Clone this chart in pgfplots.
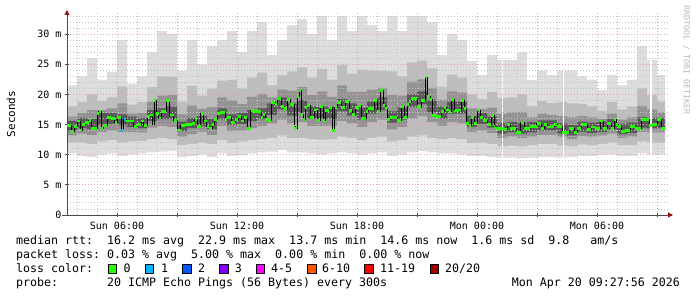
\documentclass[border=0pt]{standalone}
\usepackage{fontspec}
\usepackage{pgfplots}
\pgfplotsset{compat=1.18}
\usepackage{pgfplotstable}
\usepgfplotslibrary{fillbetween}
\usetikzlibrary{arrows.meta}
\newfontfamily\dvm{DejaVu Sans Mono}
\newcommand\legfont{\dvm\fontsize{11.63}{13}\selectfont\frenchspacing}
\newcommand\tickfont{\dvm\fontsize{10}{12}\selectfont\frenchspacing}
\definecolor{smokeA}{HTML}{DDDDDD}
\definecolor{smokeB}{HTML}{BDBDBD}
\definecolor{smokeC}{HTML}{939393}
\definecolor{smokeD}{HTML}{5A5A5A}
\definecolor{lc0}{HTML}{26FF00}
\definecolor{lc1}{HTML}{00B8FF}
\definecolor{lc2}{HTML}{0059FF}
\definecolor{lc3}{HTML}{7E00FF}
\definecolor{lc4}{HTML}{FF00FF}
\definecolor{lc6}{HTML}{FF5500}
\definecolor{lc11}{HTML}{FF0000}
\definecolor{lc20}{HTML}{A10000}
\definecolor{majgrid}{RGB}{235,160,160}
\definecolor{mingrid}{RGB}{195,195,195}
\definecolor{arrowred}{RGB}{150,20,20}
\tikzset{lbox/.style={draw=black, line width=0.8pt, minimum size=8.5pt, inner sep=0pt}}

\pgfplotstableread{
t lo1 lo2 lo3 lo4 hi4 hi3 hi2 hi1
3.5 10.2 12.0 13.2 14.0 15.6 16.3 18.0 21.5
4.0 9.8 12.0 13.5 14.4 16.1 16.9 18.7 23.0
4.5 9.6 11.8 13.3 14.2 15.9 17.4 20.0 26.0
5.0 10.0 12.2 13.8 15.0 16.9 17.4 18.9 22.4
5.5 10.2 12.4 14.0 15.1 16.9 17.7 19.5 23.7
6.0 9.8 12.0 13.8 14.9 16.7 18.5 21.3 29.0
6.5 10.0 12.2 13.8 14.6 16.3 16.8 18.3 21.8
7.0 10.2 12.3 13.7 14.4 16.1 16.9 18.7 23.0
7.5 10.4 12.6 14.5 15.6 17.4 18.8 21.2 27.0
8.0 10.5 12.8 14.8 15.9 17.7 19.8 23.0 30.5
8.5 10.6 12.6 14.6 15.9 18.0 19.9 22.9 30.0
9.0 9.6 11.6 13.0 13.9 15.5 16.7 18.8 24.0
9.5 9.8 11.8 13.4 14.4 16.1 18.2 21.4 29.0
10.0 10.0 12.0 13.8 14.7 16.4 17.6 19.8 25.0
10.5 9.6 11.8 13.3 14.2 15.9 17.9 20.9 28.0
11.0 10.2 12.4 14.8 15.9 17.7 19.5 22.3 29.0
11.5 9.8 12.0 13.9 14.9 16.7 19.0 22.4 30.5
12.0 9.9 12.2 14.0 15.1 16.9 18.4 21.0 27.0
12.5 10.2 12.4 14.4 15.6 17.4 19.6 22.8 30.5
13.0 10.4 12.6 14.8 15.9 17.7 20.1 23.6 32.0
13.5 10.5 12.8 15.2 16.6 18.5 19.5 21.5 26.5
14.0 10.8 13.2 15.8 17.5 19.5 20.8 23.2 29.0
14.5 10.4 12.8 15.2 16.5 18.5 20.6 23.8 31.5
15.0 10.4 12.8 15.4 17.0 19.0 21.2 24.5 32.5
15.5 10.2 12.6 14.8 16.0 18.0 19.9 22.8 30.0
16.0 10.0 12.5 14.8 16.0 18.0 20.5 24.2 33.0
16.5 10.2 12.6 14.8 16.0 18.0 19.6 22.4 29.0
17.0 10.4 13.0 15.6 17.2 19.2 21.5 24.9 33.0
17.5 10.2 12.8 15.2 16.5 18.5 20.4 23.4 30.5
18.0 10.0 12.4 14.6 15.8 17.8 20.4 24.1 33.0
18.5 10.2 12.8 15.4 16.8 18.8 20.8 24.0 31.5
19.0 10.4 13.0 15.8 17.4 19.5 21.1 23.9 30.5
19.5 9.8 12.2 14.2 15.3 17.2 19.9 23.8 33.0
20.0 10.0 12.4 14.6 15.8 17.8 19.8 23.0 30.5
20.5 10.4 13.0 16.0 17.9 20.0 22.1 25.3 33.0
21.0 10.6 13.2 16.4 18.4 20.5 22.5 25.6 33.0
21.5 10.4 12.8 15.4 17.0 19.0 21.1 24.3 32.0
22.0 10.2 12.6 14.8 16.0 18.0 19.1 21.3 26.5
22.5 10.2 12.8 15.4 16.8 18.8 20.5 23.3 30.0
23.0 10.0 12.6 15.2 16.8 18.8 20.3 22.8 29.0
23.5 9.8 11.9 13.8 14.6 16.4 17.7 20.0 25.5
24.0 9.8 12.0 14.0 15.1 16.9 17.6 19.2 23.2
24.5 9.6 11.8 13.6 14.5 16.3 17.8 20.4 26.5
25.0 9.5 11.4 12.8 13.5 15.2 16.8 19.4 25.7
25.5 9.5 11.5 13.0 13.7 15.4 17.0 19.5 25.7
26.0 9.4 11.4 12.8 13.5 15.2 17.1 20.0 27.0
26.5 9.5 11.6 13.0 13.7 15.4 16.2 18.1 22.4
27.0 9.6 11.8 13.3 14.0 15.7 16.8 18.9 24.0
27.5 9.6 11.8 13.3 14.0 15.7 16.6 18.6 23.2
28.0 9.5 11.5 12.9 13.5 15.2 16.4 18.7 24.0
28.5 9.6 11.4 12.6 13.2 14.9 16.2 18.5 24.0
29.0 9.8 11.7 13.1 13.8 15.5 16.4 18.4 23.0
29.5 9.8 11.6 13.0 13.6 15.3 16.2 18.0 22.4
30.0 10.0 11.8 13.2 13.8 15.5 15.9 17.3 20.7
30.5 10.0 12.0 13.5 14.2 15.9 16.8 18.7 23.2
31.0 9.8 11.6 12.8 13.4 15.1 15.8 17.5 21.5
31.5 9.8 11.6 13.0 13.6 15.3 16.2 18.0 22.4
32.0 10.2 12.2 13.8 14.5 16.2 18.1 21.0 28.0
32.5 10.0 12.0 13.7 14.4 16.1 17.5 19.9 25.7
33.0 10.0 12.0 13.7 14.4 16.1 17.0 18.8 23.2
33.4 10.0 12.0 13.7 14.4 16.1 17.0 18.8 23.2
}\smoke

\pgfplotstableread{
t v
3.50 14.8
3.72 13.8
3.87 14.7
4.00 15.6
4.17 14.1
4.25 15.0
4.42 15.4
4.59 15.7
4.72 14.4
5.02 16.8
5.09 17.2
5.22 14.4
5.32 14.8
5.50 16.2
5.72 16.0
5.89 15.3
6.00 16.2
6.22 14.0
6.34 15.8
6.45 15.6
6.84 14.7
7.00 15.0
7.20 15.6
7.34 14.8
7.50 16.3
7.67 16.6
7.79 15.0
7.87 19.0
7.97 16.8
8.09 16.1
8.22 17.2
8.45 19.0
8.63 16.6
8.83 15.7
9.00 14.1
9.18 14.8
9.40 15.0
9.75 15.2
9.88 15.8
10.00 14.7
10.18 16.8
10.33 15.6
10.48 14.7
10.60 14.4
10.75 15.0
10.85 15.8
11.00 16.8
11.15 17.0
11.40 15.8
11.50 16.2
11.70 15.3
11.90 15.8
12.05 16.4
12.20 15.6
12.35 16.2
12.50 14.4
12.68 17.3
12.85 17.1
13.20 16.2
13.30 16.7
13.42 15.8
13.55 15.7
13.70 18.6
13.90 18.3
14.00 19.3
14.20 18.0
14.35 17.6
14.50 19.1
14.65 18.3
14.85 14.7
14.92 14.3
15.00 19.7
15.10 20.6
15.20 16.7
15.30 15.8
15.40 17.8
15.50 18.2
15.65 16.2
15.85 17.4
16.00 15.7
16.15 18.0
16.30 15.7
16.40 17.3
16.60 17.8
16.75 14.0
16.88 17.8
17.00 18.7
17.20 17.8
17.40 18.8
17.60 17.3
17.75 16.7
17.90 17.8
18.10 18.2
18.20 16.0
18.45 17.2
18.55 17.6
18.85 19.0
19.00 17.2
19.15 20.6
19.30 18.2
19.40 17.6
19.50 15.8
19.65 16.2
20.00 15.7
20.20 18.0
20.35 16.2
20.50 18.3
20.60 18.8
20.70 19.3
21.00 18.0
21.10 17.8
21.20 19.0
21.40 22.9
21.50 19.7
21.65 19.2
21.75 16.5
21.95 16.3
22.20 17.2
22.35 17.8
22.45 17.4
22.60 17.2
22.70 19.2
22.85 17.2
22.92 17.3
23.10 17.4
23.20 19.0
23.35 17.6
23.45 15.2
23.60 14.8
23.70 16.2
23.85 15.2
24.00 17.4
24.15 16.2
24.30 15.7
24.50 15.0
24.70 16.5
24.85 14.7
24.92 14.3
25.35 14.2
25.50 15.0
25.65 14.3
25.95 13.7
26.18 15.4
26.35 14.3
26.65 14.7
26.98 15.2
27.20 14.4
27.35 15.0
27.50 14.6
27.70 14.7
27.85 15.0
28.00 14.7
28.25 13.7
28.60 14.3
28.85 13.7
29.00 14.3
29.20 15.0
29.50 14.2
29.70 14.6
29.90 14.3
30.15 15.6
30.30 14.3
30.40 14.4
30.50 15.2
30.70 14.4
30.85 15.8
30.95 15.0
31.05 14.7
31.20 13.8
31.40 14.0
31.65 14.7
31.90 14.3
32.20 15.8
32.60 14.9
32.80 15.0
33.00 15.9
33.20 14.4
33.40 14.4
}\med

\begin{document}
\begin{tikzpicture}
\begin{axis}[
  at={(67pt,82pt)}, anchor=south west,
  scale only axis, width=601pt, height=202pt,
  xmin=3.5, xmax=33.55, ymin=0, ymax=33.5,
  set layers,
  axis lines=left,
  axis line style={draw=black!70, line width=0.9pt},
  x axis line style={-{Triangle[length=5pt,width=5pt,color=arrowred]}, shorten <=-5pt, shorten >=-5pt},
  y axis line style={-{Triangle[length=5pt,width=5pt,color=arrowred]}, shorten >=-3pt},
  xtick={6,9,...,33},
  xticklabels={Sun 06:00,,Sun 12:00,,Sun 18:00,,Mon 00:00,,Mon 06:00,},
  minor xtick={4,5,7,8,10,11,13,14,16,17,19,20,22,23,25,26,28,29,31,32},
  ytick={0,5,...,30},
  yticklabels={0,5 m,10 m,15 m,20 m,25 m,30 m},
  minor ytick={1,2,3,4,6,7,8,9,11,12,13,14,16,17,18,19,21,22,23,24,26,27,28,29,31,32,33},
  grid=both,
  major grid style={line width=0.9pt, dash pattern=on 0.9pt off 2.1pt, color=majgrid},
  minor grid style={line width=0.9pt, dash pattern=on 0.9pt off 2.1pt, color=mingrid},
  tick style={black!70, line width=0.8pt},
  major tick length=4pt, minor tick length=0pt,
  tick align=center,
  tick label style={font=\tickfont, text=black},
  xticklabel style={yshift=-1.5pt},
]
% smoke bands
\addplot[draw=none, const plot, name path=a1, forget plot] table[x=t,y=lo1]{\smoke};
\addplot[draw=none, const plot, name path=b1, forget plot] table[x=t,y=hi1]{\smoke};
\addplot[fill=smokeA, draw=none, forget plot] fill between[of=a1 and b1, on layer=axis background];
\addplot[draw=none, const plot, name path=a2, forget plot] table[x=t,y=lo2]{\smoke};
\addplot[draw=none, const plot, name path=b2, forget plot] table[x=t,y=hi2]{\smoke};
\addplot[fill=smokeB, draw=none, forget plot] fill between[of=a2 and b2, on layer=axis background];
\addplot[draw=none, const plot, name path=a3, forget plot] table[x=t,y=lo3]{\smoke};
\addplot[draw=none, const plot, name path=b3, forget plot] table[x=t,y=hi3]{\smoke};
\addplot[fill=smokeC, draw=none, forget plot] fill between[of=a3 and b3, on layer=axis background];
\addplot[draw=none, const plot, name path=a4, forget plot] table[x=t,y=lo4]{\smoke};
\addplot[draw=none, const plot, name path=b4, forget plot] table[x=t,y=hi4]{\smoke};
\addplot[fill=smokeD, draw=none, forget plot] fill between[of=a4 and b4, on layer=axis background];
% data gaps
\addplot[ycomb, white, line width=1.6pt, mark=none, forget plot, on layer=axis background] coordinates {(25.28,33.4) (28.32,33.4) (32.70,33.4)};
% median
\addplot[const plot, black, line width=0.7pt, mark=none, forget plot] table[x=t,y=v]{\med};
\addplot[jump mark left, lc0, line width=2.8pt, mark=none, forget plot] table[x=t,y=v]{\med};
\addplot[jump mark left, lc1, line width=2.8pt, mark=none, forget plot] coordinates {(6.22,14.0) (6.34,15.8) (6.45,15.8)};
\end{axis}
% labels
\node[rotate=90, inner sep=0pt, font=\dvm\fontsize{11}{13}\selectfont] at (11pt,183pt) {Seconds};
\node[rotate=-90, inner sep=0pt, text=black!28, font=\dvm\fontsize{8.3}{10}\selectfont] at (686.5pt,237pt) {RRDTOOL / TOBI OETIKER};
\node[anchor=base west, inner sep=0pt] at (16pt,52.5pt) {\legfont median rtt:~~16.2 ms avg~~22.9 ms max~~13.7 ms min~~14.6 ms now~~1.6 ms sd~~9.8~~~am/s};
\node[anchor=base west, inner sep=0pt] at (16pt,38.5pt) {\legfont packet loss: 0.03 \% avg~~5.00 \% max~~0.00 \% min~~0.00 \% now};
\node[anchor=base west, inner sep=0pt] at (16pt,24.5pt) {\legfont loss color:};
\node[anchor=base west, inner sep=0pt] at (16pt,10.5pt) {\legfont probe:};
\node[anchor=base west, inner sep=0pt] at (107pt,10.5pt) {\legfont 20 ICMP Echo Pings (56 Bytes) every 300s};
\node[anchor=base east, inner sep=0pt] at (680pt,10.5pt) {\legfont Mon Apr 20 09:27:56 2026};
% loss colour boxes
\node[lbox, fill=lc0] at (112.3pt,28pt) {};
\node[anchor=base west, inner sep=0pt] at (123.5pt,24.5pt) {\legfont 0};
\node[lbox, fill=lc1] at (149.5pt,28pt) {};
\node[anchor=base west, inner sep=0pt] at (161pt,24.5pt) {\legfont 1};
\node[lbox, fill=lc2] at (187pt,28pt) {};
\node[anchor=base west, inner sep=0pt] at (198pt,24.5pt) {\legfont 2};
\node[lbox, fill=lc3] at (223.8pt,28pt) {};
\node[anchor=base west, inner sep=0pt] at (234.6pt,24.5pt) {\legfont 3};
\node[lbox, fill=lc4] at (260.5pt,28pt) {};
\node[anchor=base west, inner sep=0pt] at (271pt,24.5pt) {\legfont 4-5};
\node[lbox, fill=lc6] at (311.8pt,28pt) {};
\node[anchor=base west, inner sep=0pt] at (322pt,24.5pt) {\legfont 6-10};
\node[lbox, fill=lc11] at (369pt,28pt) {};
\node[anchor=base west, inner sep=0pt] at (380pt,24.5pt) {\legfont 11-19};
\node[lbox, fill=lc20] at (434.5pt,28pt) {};
\node[anchor=base west, inner sep=0pt] at (445pt,24.5pt) {\legfont 20/20};
\pgfresetboundingbox
\path[use as bounding box] (0pt,0pt) rectangle (697pt,297pt);
\end{tikzpicture}
\end{document}
